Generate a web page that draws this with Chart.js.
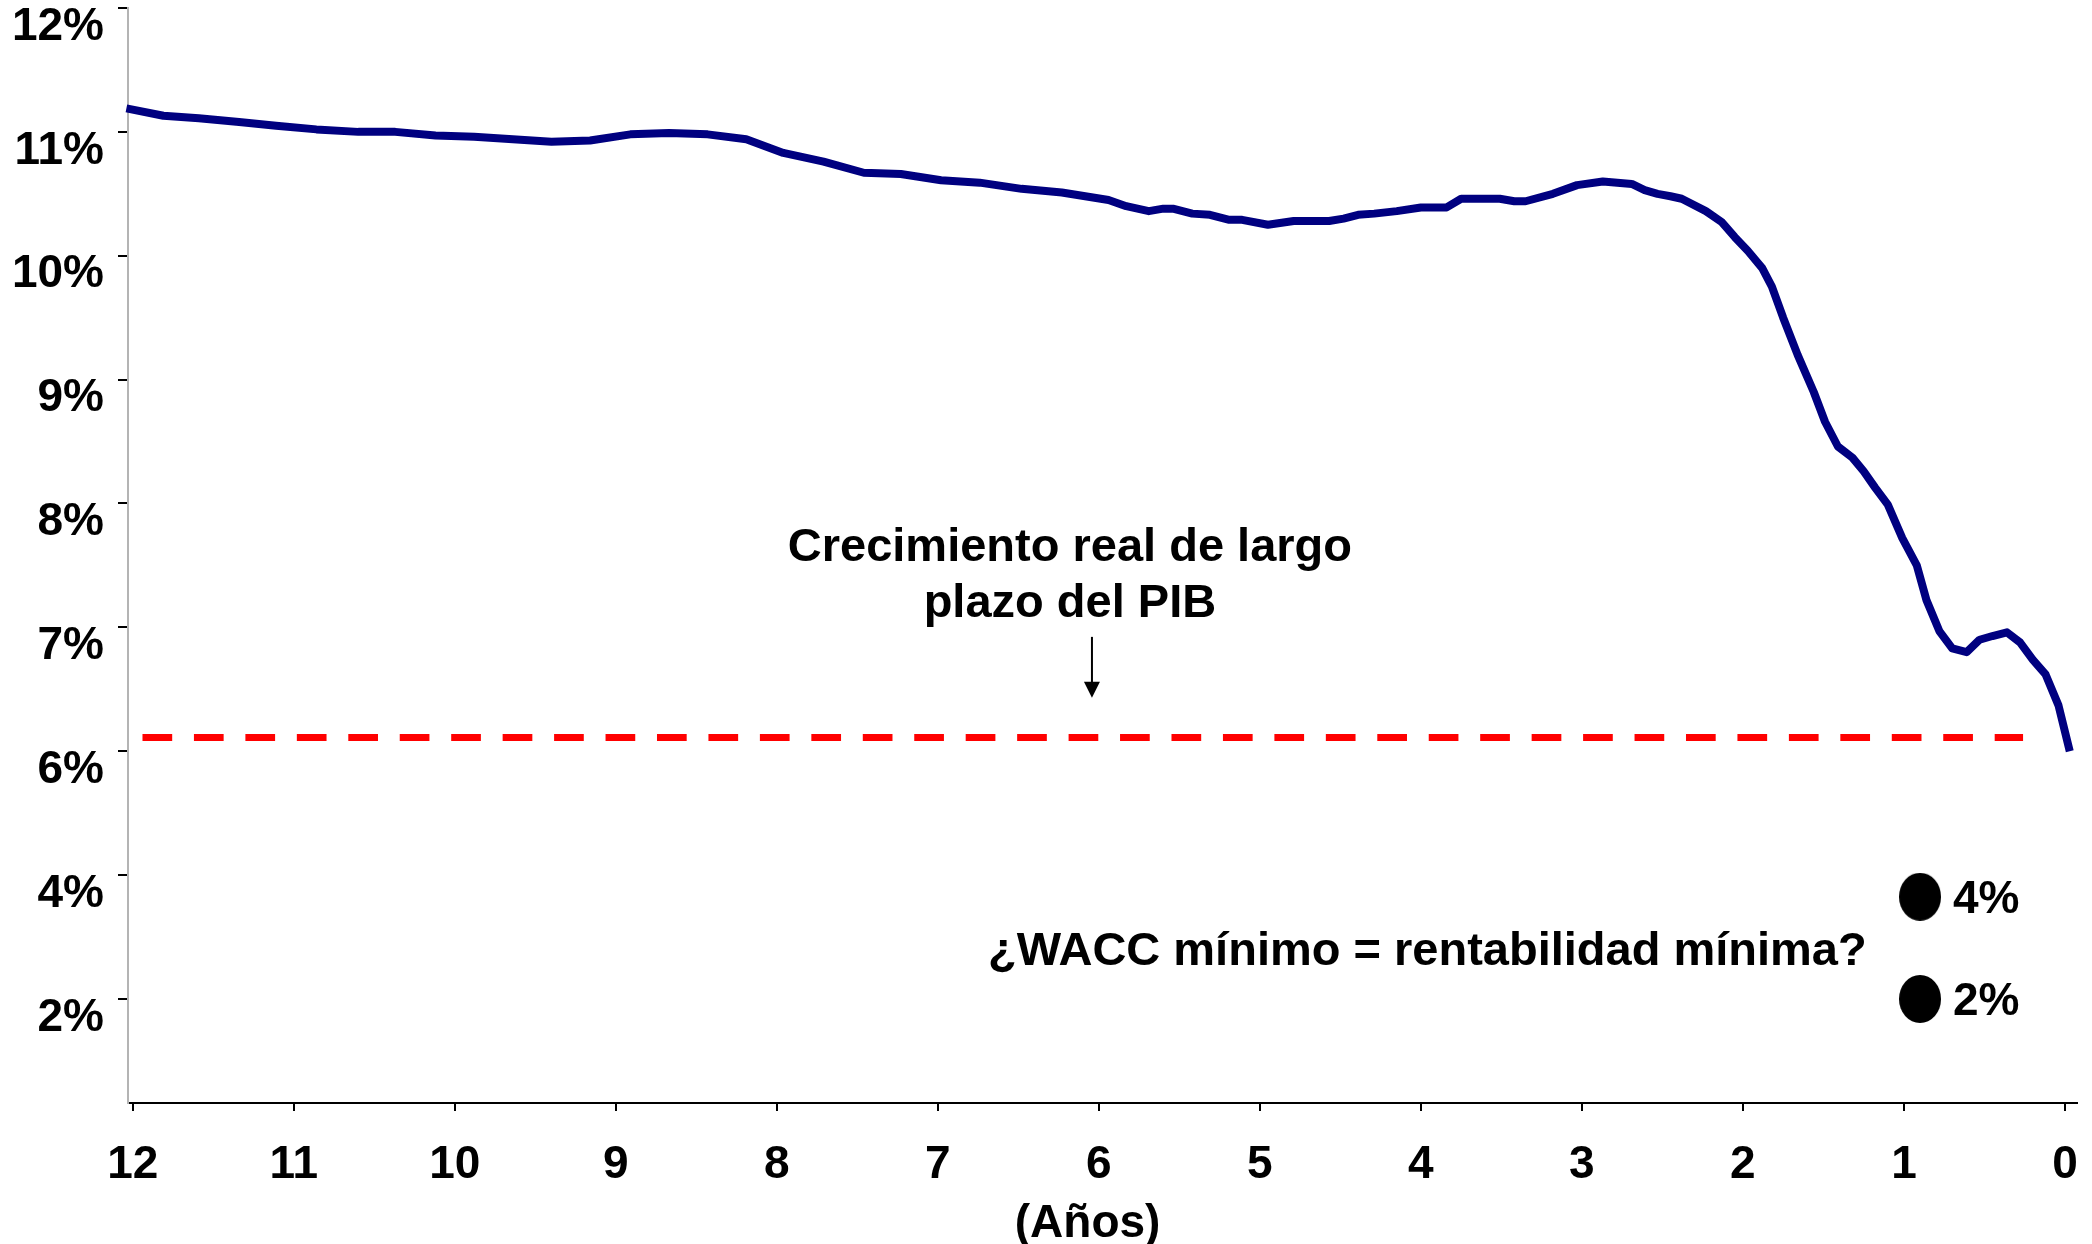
<!DOCTYPE html>
<html>
<head>
<meta charset="utf-8">
<script src="https://cdn.jsdelivr.net/npm/chart.js@4.4.1/dist/chart.umd.min.js"></script>
<style>
  html, body { margin: 0; padding: 0; background: #fff; }
</style>
</head>
<body>
<canvas id="chart" width="2092" height="1244"></canvas>
<script>
// Years remaining (x) and rate in % (y)
const years = [12.04, 11.81, 11.59, 11.34, 11.11, 10.86, 10.60, 10.37, 10.12, 9.88,
  9.64, 9.40, 9.16, 8.91, 8.67, 8.43, 8.19, 7.96, 7.71, 7.46,
  7.23, 6.98, 6.74, 6.48, 6.23, 5.94, 5.83, 5.69, 5.60, 5.54,
  5.42, 5.31, 5.19, 5.11, 4.95, 4.79, 4.57, 4.48, 4.39, 4.29,
  4.15, 4.00, 3.84, 3.75, 3.51, 3.42, 3.35, 3.18, 3.03, 2.87,
  2.69, 2.61, 2.53, 2.45, 2.38, 2.23, 2.13, 2.05, 1.97, 1.88,
  1.82, 1.75, 1.66, 1.56, 1.49, 1.41, 1.32, 1.25, 1.18, 1.10,
  1.01, 0.92, 0.86, 0.78, 0.70, 0.61, 0.53, 0.45, 0.36, 0.28,
  0.20, 0.12, 0.04, -0.03];
const rates = [11.19, 11.13, 11.11, 11.08, 11.05, 11.02, 11.00, 11.00, 10.97, 10.96,
  10.94, 10.92, 10.93, 10.98, 10.99, 10.98, 10.94, 10.83, 10.76, 10.67,
  10.66, 10.61, 10.59, 10.54, 10.51, 10.45, 10.40, 10.36, 10.38, 10.38,
  10.34, 10.33, 10.29, 10.29, 10.25, 10.28, 10.28, 10.30, 10.33, 10.34,
  10.36, 10.39, 10.39, 10.46, 10.46, 10.44, 10.44, 10.50, 10.57, 10.60,
  10.58, 10.53, 10.50, 10.48, 10.46, 10.36, 10.27, 10.15, 10.04, 9.90,
  9.75, 9.50, 9.20, 8.90, 8.66, 8.46, 8.37, 8.26, 8.13, 7.99,
  7.72, 7.50, 7.22, 6.97, 6.83, 6.80, 6.90, 6.93, 6.96, 6.88,
  6.74, 6.62, 6.37, 6.00];

// long-run real GDP growth (dashed line)
const gdpYears = [11.94, 0.26];
const gdpRate = 6.11;

// minimum WACC dots
const waccYear = 0.9;
const waccRates = [3.65, 2.0];
const waccLabels = ['4%', '2%'];

const xTicks = [0, 1, 2, 3, 4, 5, 6, 7, 8, 9, 10, 11, 12];
const yTickLabels = ['2%', '4%', '6%', '7%', '8%', '9%', '10%', '11%', '12%'];
const xTitle = '(Años)';

const gdpNote = ['Crecimiento real de largo', 'plazo del PIB'];
const waccNote = '¿WACC mínimo = rentabilidad mínima?';

// the y axis is not linear below 6%: 6%,4%,2% get one step each
function toSlot(p) {
  return p >= 6 ? p : 4 + (p - 2) / 2;
}

const FONT = '"Liberation Sans", Arial, sans-serif';

// ellipse used as the point style of the dots
function ellipseDot(w, h) {
  const c = document.createElement('canvas');
  c.width = w; c.height = h;
  const g = c.getContext('2d');
  g.fillStyle = '#000';
  g.beginPath();
  g.ellipse(w / 2, h / 2, w / 2, h / 2, 0, 0, Math.PI * 2);
  g.fill();
  return c;
}

const notesPlugin = {
  id: 'notes',
  afterDatasetsDraw(chart) {
    const ctx = chart.ctx;
    const x = chart.scales.x, y = chart.scales.y;
    ctx.save();
    ctx.fillStyle = '#000';
    ctx.strokeStyle = '#000';
    ctx.font = 'bold 47px ' + FONT;
    ctx.textBaseline = 'alphabetic';

    // GDP note + arrow
    ctx.textAlign = 'center';
    const nx = x.getPixelForValue(6.18);
    ctx.fillText(gdpNote[0], nx, y.getPixelForValue(7.537));
    ctx.fillText(gdpNote[1], nx, y.getPixelForValue(7.085));

    const ax = x.getPixelForValue(6.043);
    const ay0 = y.getPixelForValue(6.923), ay1 = y.getPixelForValue(6.431);
    ctx.lineWidth = 2;
    ctx.beginPath();
    ctx.moveTo(ax, ay0);
    ctx.lineTo(ax, ay1 - 12);
    ctx.stroke();
    ctx.beginPath();
    ctx.moveTo(ax - 8, ay1 - 16);
    ctx.lineTo(ax + 8, ay1 - 16);
    ctx.lineTo(ax, ay1);
    ctx.closePath();
    ctx.fill();

    // WACC question
    ctx.fillText(waccNote, x.getPixelForValue(3.96), y.getPixelForValue(4.276));

    // labels next to the dots
    ctx.textAlign = 'left';
    ctx.font = 'bold 46px ' + FONT;
    const meta = chart.getDatasetMeta(2);
    meta.data.forEach((pt, i) => {
      ctx.fillText(waccLabels[i], pt.x + 33, pt.y + 16);
    });

    // x axis title, a bit left of the axis centre as in the original
    ctx.textAlign = 'center';
    ctx.textBaseline = 'middle';
    ctx.fillText(xTitle, x.getPixelForValue(6.07), x.bottom - 20);
    ctx.restore();
  }
};

function noPadding(scale) {
  scale.paddingTop = 0;
  scale.paddingBottom = 0;
  scale.paddingLeft = 0;
  scale.paddingRight = 0;
}

new Chart(document.getElementById('chart'), {
  type: 'line',
  data: {
    datasets: [
      {
        data: years.map((v, i) => ({ x: v, y: toSlot(rates[i]) })),
        borderColor: '#000080',
        borderWidth: 8,
        pointRadius: 0,
        tension: 0,
        borderJoinStyle: 'round',
        clip: false
      },
      {
        data: gdpYears.map(v => ({ x: v, y: toSlot(gdpRate) })),
        borderColor: '#ff0000',
        borderWidth: 7,
        borderDash: [29.7, 21.75],
        pointRadius: 0,
        clip: false
      },
      {
        type: 'scatter',
        data: waccRates.map(r => ({ x: waccYear, y: toSlot(r) })),
        pointStyle: ellipseDot(42, 48),
        pointRadius: 22,
        showLine: false,
        clip: false
      }
    ]
  },
  options: {
    responsive: false,
    animation: false,
    devicePixelRatio: 1,
    layout: { autoPadding: false, padding: { top: 8, right: 15, left: 0, bottom: 0 } },
    plugins: {
      legend: { display: false },
      tooltip: { enabled: false }
    },
    scales: {
      x: {
        type: 'linear',
        reverse: true,
        min: -0.075,
        max: 12.03,
        afterBuildTicks: s => { s.ticks = xTicks.map(v => ({ value: v })); },
        afterFit: s => { s.height = 141; noPadding(s); },
        ticks: {
          color: '#000',
          font: { family: FONT, size: 46, weight: 'bold' },
          padding: 27,
          maxRotation: 0,
          autoSkip: false
        },
        grid: {
          drawOnChartArea: false,
          drawTicks: true,
          tickLength: 8,
          color: '#000',
          lineWidth: 2
        },
        border: { color: '#000', width: 2 }
      },
      y: {
        type: 'linear',
        min: 3.16,
        max: 12,
        afterBuildTicks: s => { s.ticks = yTickLabels.map((t, i) => ({ value: 4 + i })); },
        afterFit: s => { s.width = 128; noPadding(s); },
        ticks: {
          color: '#000',
          font: { family: FONT, size: 46, weight: 'bold' },
          padding: 14,
          labelOffset: 19,
          callback: (v, i) => yTickLabels[i]
        },
        grid: {
          drawOnChartArea: false,
          drawTicks: true,
          tickLength: 10,
          color: '#000',
          lineWidth: 2
        },
        border: { color: '#b4b4b4', width: 2 }
      }
    }
  },
  plugins: [notesPlugin]
});
</script>
</body>
</html>
